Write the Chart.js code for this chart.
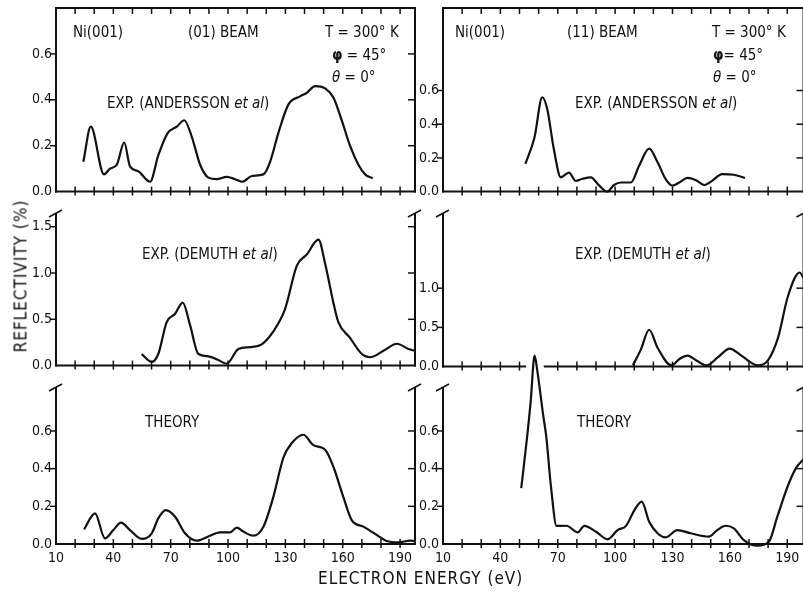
<!DOCTYPE html>
<html>
<head>
<meta charset="utf-8">
<script src="https://cdn.jsdelivr.net/npm/chart.js@4.4.1/dist/chart.umd.min.js"></script>
<style>
  body { margin: 0; width: 803px; height: 596px; overflow: hidden; background: #fff; position: relative;
         font-family: 'Liberation Sans Narrow', 'DejaVu Sans Condensed', 'Liberation Sans', sans-serif; color: #111; }
  .p { position: absolute; }
  .t { position: absolute; white-space: nowrap; font-size: 15px; line-height: 1; }
  .big { font-size: 17px; letter-spacing: 1px; }
</style>
</head>
<body>
<script>
// ---------- data (energy in eV, reflectivity in %) ----------
const energyTicks = [10, 20, 30, 40, 50, 60, 70, 80, 90, 100, 110, 120, 130, 140, 150, 160, 170, 180, 190];

// (01) beam
const beam01ExpAE = [24.3, 28.2, 35.1, 38.3, 41.8, 45.7, 48.7, 53, 59.2, 63.5, 68.4, 73.2, 77.1, 81, 85.4, 89.7, 94.1, 99.3, 103.7, 107.5, 112.4, 118.5, 122, 126.3, 131.6, 137.7, 141.2, 145.5, 150.8, 155.1, 159.5, 163.8, 168.2, 171.7, 175.7];
const beam01ExpAR = [0.13, 0.283, 0.075, 0.10, 0.117, 0.214, 0.11, 0.089, 0.043, 0.158, 0.255, 0.283, 0.311, 0.24, 0.117, 0.061, 0.054, 0.064, 0.054, 0.043, 0.068, 0.075, 0.13, 0.255, 0.38, 0.415, 0.43, 0.46, 0.45, 0.41, 0.31, 0.20, 0.117, 0.075, 0.058];

const beam01ExpDE = [54.8, 60.1, 63.5, 67.9, 72.3, 76.3, 80.1, 84.5, 89.7, 94.9, 99.3, 105.4, 111.5, 117.6, 123.7, 129.8, 136, 141.2, 147.3, 150.8, 155.1, 157.7, 163.8, 170, 174.3, 181.3, 188.3, 194.4, 197.7];
const beam01ExpDR = [0.125, 0.04, 0.125, 0.47, 0.56, 0.68, 0.44, 0.125, 0.10, 0.06, 0.02, 0.18, 0.2, 0.23, 0.37, 0.61, 1.08, 1.2, 1.36, 1.10, 0.68, 0.47, 0.30, 0.125, 0.09, 0.16, 0.236, 0.18, 0.16];

const beam01TheoryE = [24.7, 30.4, 35.6, 40, 44, 48.7, 54.8, 60.1, 63.5, 67.4, 72.3, 77.5, 83.6, 89.7, 95.8, 101, 104.6, 108, 113.2, 118.5, 123.7, 129, 133.3, 139.4, 144.6, 150.8, 155.1, 160.3, 164.7, 170.8, 177.8, 183, 189.1, 195.2, 197.7];
const beam01TheoryR = [0.078, 0.163, 0.03, 0.074, 0.113, 0.074, 0.027, 0.057, 0.136, 0.18, 0.145, 0.057, 0.018, 0.04, 0.062, 0.062, 0.087, 0.066, 0.044, 0.092, 0.25, 0.46, 0.535, 0.58, 0.525, 0.5, 0.41, 0.25, 0.127, 0.092, 0.048, 0.016, 0.009, 0.018, 0.015];

// (11) beam
const beam11ExpAE = [53.1, 57.8, 61.9, 64.5, 68, 71.6, 75.9, 79.4, 82.9, 87.3, 91.7, 95.9, 99.4, 103, 108.2, 112.6, 117.8, 122.2, 126.5, 130, 133.5, 137.9, 142.3, 146.6, 150.1, 156, 162.1, 167.9];
const beam11ExpAR = [0.165, 0.32, 0.56, 0.49, 0.25, 0.085, 0.113, 0.063, 0.076, 0.085, 0.035, 0.0, 0.039, 0.054, 0.054, 0.155, 0.255, 0.174, 0.072, 0.035, 0.054, 0.081, 0.067, 0.039, 0.059, 0.104, 0.1, 0.081];

const beam11ExpDE = [109.3, 113.5, 117.8, 122.2, 129.5, 133.8, 137.9, 142.5, 147.8, 153.8, 159.9, 166, 174.7, 179.9, 185.2, 190.4, 196.5, 198.5];
const beam11ExpDR = [0.016, 0.22, 0.47, 0.24, 0.016, 0.1, 0.14, 0.078, 0.016, 0.12, 0.23, 0.14, 0.016, 0.08, 0.37, 0.9, 1.2, 1.13];

const beam11TheoryE = [50.9, 54, 55.8, 57.9, 59.3, 62.3, 64, 66.5, 69.4, 74.6, 80.4, 83.9, 90, 96.1, 101.3, 105.7, 110.1, 113.9, 117.8, 122.2, 126.4, 132.5, 139.5, 149, 153.4, 157.8, 162.1, 167.3, 174.3, 180.4, 184.8, 190, 194.4, 198.5];
const beam11TheoryR = [0.296, 0.57, 0.75, 1.0, 0.92, 0.69, 0.57, 0.30, 0.096, 0.097, 0.062, 0.096, 0.065, 0.025, 0.074, 0.096, 0.18, 0.225, 0.118, 0.057, 0.035, 0.074, 0.057, 0.039, 0.074, 0.097, 0.083, 0.021, -0.009, 0.012, 0.145, 0.30, 0.40, 0.45];

const ticksSmall = [0, 0.2, 0.4, 0.6];
const ticksMidLeft = [0, 0.5, 1.0, 1.5];
const ticksMidRight = [0, 0.5, 1.0];

// ---------- layout ----------
const ink = '#111';
const fam = "'Liberation Sans Narrow', 'DejaVu Sans Condensed', 'Liberation Sans', sans-serif";
const colLeft = { L: 56, R: 415, xmax: 197.8 };
const colRight = { L: 442.5, R: 803, xmax: 198.5 };

function framePlugin(cfg) {
    return {
        id: 'frame',
        beforeDatasetsDraw(chart) {
            const ctx = chart.ctx, a = chart.chartArea;
            const xs = chart.scales.x, ys = chart.scales.y;
            const y0 = cfg.brk ? a.top + 15 : a.top;
            const seg = (x1, y1, x2, y2, w) => {
                ctx.lineWidth = w;
                ctx.beginPath(); ctx.moveTo(x1, y1); ctx.lineTo(x2, y2); ctx.stroke();
            };
            ctx.save();
            ctx.strokeStyle = ink;
            seg(a.left, y0, a.left, a.bottom + 1, 2);
            seg(a.right, y0, a.right, a.bottom + 1, 2);
            seg(a.left - 1, a.bottom, a.right + 1, a.bottom, 2);
            if (cfg.top) seg(a.left - 1, a.top, a.right + 1, a.top, 2);
            xs.ticks.forEach(t => {
                const px = xs.getPixelForValue(t.value);
                if (px <= a.left + 1) return;
                seg(px, a.bottom - 5, px, a.bottom + 4, 1.5);
                if (cfg.top) seg(px, a.top, px, a.top + 6, 1.5);
            });
            ys.ticks.forEach(t => {
                if (t.value === 0) return;
                const py = ys.getPixelForValue(t.value);
                seg(a.left - 6, py, a.left, py, 1.5);
                seg(a.right - 7, py, a.right, py, 1.5);
            });
            if (cfg.brk) [a.left, a.right].forEach(px => seg(px - 7, y0 + 4, px + 6, y0 - 3, 1.5));
            ctx.restore();
        }
    };
}

function makePanel(cfg) {
    const padTop = cfg.padTop || 14, padR = 12, yw = 50;
    const xh = cfg.labels ? 34 : 6;
    const div = document.createElement('div');
    div.className = 'p';
    div.style.left = (cfg.col.L - yw) + 'px';
    div.style.top = (cfg.t - padTop) + 'px';
    div.style.width = (cfg.col.R - cfg.col.L + yw + padR) + 'px';
    div.style.height = (padTop + cfg.b - cfg.t + xh) + 'px';
    const cv = document.createElement('canvas');
    div.appendChild(cv);
    document.body.appendChild(div);

    const datasets = [{
        data: cfg.e.map((x, i) => ({ x: x, y: cfg.r[i] })),
        borderColor: ink, borderWidth: 2.2, pointRadius: 0,
        cubicInterpolationMode: 'monotone', clip: false, order: 1
    }];
    if (cfg.halo) {
        // white underlay so the peak breaks the axis of the panel above
        datasets.push({
            data: cfg.e.map((x, i) => ({ x: x, y: cfg.r[i] })).filter(p => p.x >= cfg.halo[0] && p.x <= cfg.halo[1]),
            borderColor: '#fff', borderWidth: 14, pointRadius: 0,
            cubicInterpolationMode: 'monotone', clip: false, order: 2
        });
    }

    return new Chart(cv, {
        type: 'line',
        data: { datasets: datasets },
        options: {
            responsive: true, maintainAspectRatio: false, animation: false,
            layout: { padding: { top: padTop, right: padR, left: 0, bottom: 0 } },
            plugins: { legend: { display: false }, tooltip: { enabled: false } },
            scales: {
                x: {
                    type: 'linear', min: 10, max: cfg.col.xmax,
                    afterBuildTicks: s => { s.ticks = energyTicks.map(v => ({ value: v })); },
                    afterFit: s => { s.height = xh; },
                    grid: { display: false, drawTicks: false, tickLength: 0 }, border: { display: false },
                    ticks: {
                        display: !!cfg.labels, padding: 6, maxRotation: 0, autoSkip: false, color: ink,
                        font: { family: fam, size: 14 },
                        callback: v => ((v - 10) % 30 === 0 ? String(v) : '')
                    }
                },
                y: {
                    min: 0, max: cfg.ymax,
                    afterBuildTicks: s => { s.ticks = cfg.yTicks.map(v => ({ value: v })); },
                    afterFit: s => { s.width = yw; },
                    grid: { display: false, drawTicks: false, tickLength: 0 }, border: { display: false },
                    ticks: { padding: 4, color: ink, font: { family: fam, size: 14 }, callback: v => Number(v).toFixed(1) }
                }
            }
        },
        plugins: [framePlugin(cfg)]
    });
}

// left column: (01) beam
makePanel({ col: colLeft, t: 8, b: 198, ymax: 0.8, yTicks: ticksSmall, e: beam01ExpAE, r: beam01ExpAR, top: true });
makePanel({ col: colLeft, t: 198, b: 372, ymax: 1.81, yTicks: ticksMidLeft, e: beam01ExpDE, r: beam01ExpDR, brk: true });
makePanel({ col: colLeft, t: 372, b: 544, ymax: 0.913, yTicks: ticksSmall, e: beam01TheoryE, r: beam01TheoryR, brk: true, labels: true });
// right column: (11) beam
makePanel({ col: colRight, t: 8, b: 198, ymax: 1.09, yTicks: ticksSmall, e: beam11ExpAE, r: beam11ExpAR, top: true });
makePanel({ col: colRight, t: 198, b: 373, ymax: 2.15, yTicks: ticksMidRight, e: beam11ExpDE, r: beam11ExpDR, brk: true });
makePanel({ col: colRight, t: 372, b: 544, ymax: 0.913, yTicks: ticksSmall, e: beam11TheoryE, r: beam11TheoryR, brk: true, labels: true, padTop: 34, halo: [52, 63] });

// ---------- text ----------
const notes = [
    ['Ni(001)', 73, 25], ['(01) BEAM', 188, 25], ['T = 300° K', 325, 25], ['<b>φ</b> = 45°', 332, 48], ['<i>θ</i> = 0°', 332, 70],
    ['EXP. (ANDERSSON <i>et al</i>)', 107, 96],
    ['Ni(001)', 455, 25], ['(11) BEAM', 567, 25], ['T = 300° K', 712, 25], ['<b>φ</b>= 45°', 713, 48], ['<i>θ</i> = 0°', 713, 70],
    ['EXP. (ANDERSSON <i>et al</i>)', 575, 96],
    ['EXP. (DEMUTH <i>et al</i>)', 142, 247], ['EXP. (DEMUTH <i>et al</i>)', 575, 247],
    ['THEORY', 145, 415], ['THEORY', 577, 415]
];
notes.forEach(n => {
    const d = document.createElement('div');
    d.className = 't';
    d.innerHTML = n[0];
    d.style.left = n[1] + 'px';
    d.style.top = n[2] + 'px';
    document.body.appendChild(d);
});
const xt = document.createElement('div');
xt.className = 't big';
xt.textContent = 'ELECTRON ENERGY (eV)';
xt.style.left = '318px'; xt.style.top = '570px';
document.body.appendChild(xt);
const yt = document.createElement('div');
yt.className = 't big';
yt.textContent = 'REFLECTIVITY (%)';
yt.style.left = '21px'; yt.style.top = '276px';
yt.style.transform = 'translate(-50%, -50%) rotate(-90deg)';
document.body.appendChild(yt);
</script>
</body>
</html>
